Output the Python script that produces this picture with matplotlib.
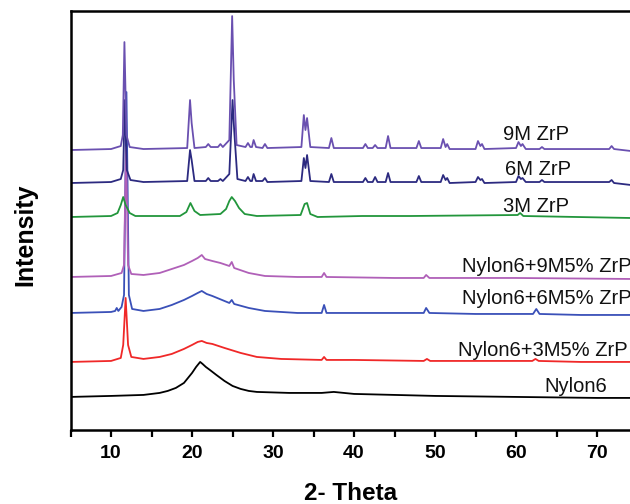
import numpy as np
from matplotlib import pyplot as plt
from matplotlib.ticker import MultipleLocator

plt.rcParams['font.family'] = ['Liberation Sans', 'DejaVu Sans']

# XRD traces (2-theta, stacked intensity in arbitrary units)
nylon6_x = [5, 10, 14, 16, 17, 18, 19, 19.5, 20, 20.5, 20.8, 21.0, 21.3, 21.7, 22.2, 23, 24, 25, 26, 27, 28,
            32, 36, 37.5, 40, 45, 50, 60, 70, 74.2]
nylon6_y = [33, 34, 35, 37, 39, 42, 47, 52, 57, 63, 66, 68, 66, 63, 60, 55, 49, 44, 41, 39, 38,
            37, 37, 38, 36, 35, 34, 33, 32, 32]

n3m_x = [5, 10, 11.2, 11.5, 11.8, 12.1, 12.5, 14, 16, 17.5, 19, 20, 20.7, 21.2, 21.8, 22.5, 24, 26, 28, 31,
         36, 36.3, 36.6, 40, 48.6, 49, 49.4, 55, 62, 62.4, 62.8, 68, 74.2]
n3m_y = [68, 69, 72, 85, 132, 85, 73, 71, 73, 76, 81, 85, 88, 89, 87, 86, 82, 77, 73, 71,
         70, 73, 70, 70, 69, 71, 69, 69, 69, 71, 69, 68, 68]

n6m_x = [5, 10, 10.5, 10.7, 10.9, 11.3, 11.6, 11.9, 12.2, 12.6, 14, 16, 17.5, 19, 20, 20.7, 21.2, 21.8, 22.5,
         24, 24.6, 24.9, 25.2, 27, 29, 33, 36.0, 36.3, 36.6, 40, 48.6, 48.9, 49.3, 55, 62.1, 62.5, 62.9,
         68, 74.2]
n6m_y = [117, 118, 119, 122, 119, 123, 135, 338, 135, 121, 119, 121, 125, 130, 134, 137, 139, 136, 134,
         129, 127, 130, 126, 122, 119, 117, 117, 125, 117, 117, 117, 122, 117, 116, 116, 121, 116,
         115, 115]

n9m_x = [5, 10, 11.3, 11.6, 11.85, 12.1, 12.5, 14, 16, 17.5, 19, 20, 20.7, 21.2, 21.6, 22.5, 23.5,
         24.6, 24.9, 25.2, 27, 29, 33, 36.0, 36.3, 36.6, 45, 48.6, 48.9, 49.3, 60, 74.2]
n9m_y = [153, 154, 157, 165, 283, 165, 156, 155, 157, 161, 165, 169, 172, 175, 171, 169, 167,
         164, 168, 162, 157, 154, 153, 153, 157, 153, 152, 152, 155, 152, 152, 151]

zrp3_x = [5, 10, 10.8, 11.2, 11.5, 11.8, 12.3, 13, 18.5, 19.3, 19.8, 20.3, 21, 23.5, 24.2, 24.6, 24.9, 25.3,
          25.8, 26.5, 28, 33.4, 33.9, 34.2, 34.6, 35.5, 41, 47, 60.2, 60.5, 60.9, 74.2]
zrp3_y = [213, 214, 217, 225, 233, 225, 217, 214, 214, 218, 227, 219, 215, 216, 221, 229, 233, 229,
          222, 216, 214, 215, 226, 227, 216, 213, 214, 214, 215, 217, 214, 212]

zrp6_x = [5, 10, 11.2, 11.5, 11.7, 11.95, 12.4, 14, 19.4, 19.75, 19.95, 20.3, 21.7, 22.0, 22.3, 23.2, 23.5,
          23.8, 24.6, 25.0, 25.2, 25.6, 26.6, 26.9, 27.2, 27.4, 27.6, 27.9, 28.7, 29.0, 29.3, 33.5, 33.8,
          34.0, 34.2, 34.6, 36.9, 37.2, 37.5, 41.1, 41.4, 41.7, 42.3, 42.6, 42.9, 43.9, 44.2, 44.5, 47.7,
          48.0, 48.3, 50.7, 51.0, 51.3, 51.5, 51.8, 55.0, 55.3, 55.6, 55.8, 56.1, 60.0, 60.3, 60.6, 60.8,
          61.2, 62.9, 63.2, 63.5, 71.5, 71.8, 72.1, 74.2]
zrp6_y = [247, 248, 251, 260, 330, 260, 250, 248, 249, 280, 270, 249, 249, 252, 249, 249, 251,
          249, 256, 330, 300, 251, 249, 253, 249, 249, 256, 249, 249, 252, 248, 249, 272,
          262, 275, 249, 248, 256, 248, 248, 252, 248, 248, 253, 248, 248, 257, 248, 248,
          254, 248, 248, 255, 250, 252, 247, 248, 253, 250, 251, 247, 248, 254, 251, 252,
          248, 248, 250, 248, 248, 250, 247, 245]

zrp9_x = [5, 10, 11.2, 11.45, 11.65, 11.9, 12.3, 14, 19.4, 19.75, 19.95, 20.3, 21.7, 22.0, 22.3, 23.2, 23.5,
          23.8, 24.6, 24.95, 25.15, 25.5, 26.6, 26.9, 27.2, 27.4, 27.6, 27.9, 28.7, 29.0, 29.3, 33.5, 33.8,
          34.0, 34.2, 34.6, 36.9, 37.2, 37.5, 41.1, 41.4, 41.7, 42.3, 42.6, 42.9, 43.9, 44.2, 44.5, 47.7,
          48.0, 48.3, 50.7, 51.0, 51.3, 51.5, 51.8, 55.0, 55.3, 55.6, 55.8, 56.1, 60.0, 60.3, 60.6, 60.8,
          61.2, 62.9, 63.2, 63.5, 71.5, 71.8, 72.1, 74.2]
zrp9_y = [280, 281, 284, 295, 388, 295, 283, 281, 282, 330, 307, 282, 283, 286, 283, 283, 286,
          283, 290, 414, 350, 285, 283, 287, 283, 283, 290, 283, 282, 286, 282, 283, 315,
          300, 312, 283, 282, 292, 282, 282, 286, 282, 282, 285, 282, 282, 294, 282, 282,
          289, 282, 282, 291, 283, 286, 281, 281, 289, 284, 286, 281, 282, 288, 284, 286,
          281, 281, 283, 281, 281, 284, 281, 279]

names = ["Nylon6", "Nylon6+3M5% ZrP", "Nylon6+6M5% ZrP", "Nylon6+9M5% ZrP",
         "3M ZrP", "6M ZrP", "9M ZrP"]
colors = ["#000000", "#f02828", "#3a50b8", "#b060b8", "#22963c", "#2c2a80", "#6a50b0"]
label_x = [63.5, 52.8, 53.3, 53.3, 58.4, 58.6, 58.4]
label_y = [38, 74, 126, 158, 218, 255, 290]

traces = [(nylon6_x, nylon6_y), (n3m_x, n3m_y), (n6m_x, n6m_y), (n9m_x, n9m_y),
          (zrp3_x, zrp3_y), (zrp6_x, zrp6_y), (zrp9_x, zrp9_y)]

fig = plt.figure(figsize=(6.3, 5.04), dpi=100)
ax = fig.add_axes([0.112, 0.147, 0.888, 0.831])

for (x, y), c in zip(traces, colors):
    ax.plot(x, y, color=c, lw=1.3)
for name, tx, ty, c in zip(names, label_x, label_y, colors):
    ax.text(tx, ty, name, fontsize=14.5, va='baseline', ha='left', color='#111111')

ax.set_xlim(5, 74.07)
ax.set_ylim(0, 419)
ax.set_yticks([])
ax.xaxis.set_major_locator(MultipleLocator(10))
ax.xaxis.set_minor_locator(MultipleLocator(5))
ax.tick_params(axis='x', which='major', length=5, width=1.6, direction='out', pad=6, labelsize=14)
ax.tick_params(axis='x', which='minor', length=5, width=1.6, direction='out')
for lab in ax.get_xticklabels():
    lab.set_fontweight('bold')
ax.spines['right'].set_visible(False)
for s in ['left', 'top', 'bottom']:
    ax.spines[s].set_linewidth(1.8)

ax.set_xlabel("2- Theta", fontsize=17.5, fontweight='bold', labelpad=14)
fig.text(25 / 630, 1 - 235 / 504, "Intensity", rotation=90, fontsize=18,
         fontweight='bold', ha='center', va='center')

fig.savefig("out.png", dpi=100)
